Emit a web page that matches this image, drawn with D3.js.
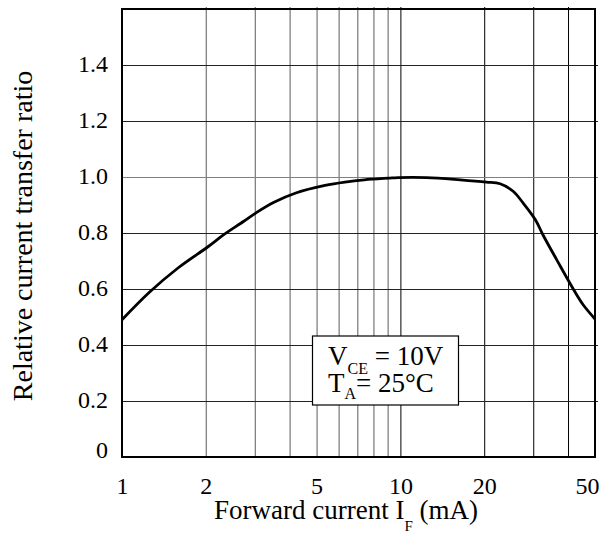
<!DOCTYPE html>
<html lang="en">
<head>
<meta charset="UTF-8">
<title>Relative current transfer ratio</title>
<style>
  body { margin: 0; background: #fff; }
  svg text { fill: #000; font-family: "Liberation Serif", "Times New Roman", serif; }
</style>
</head>
<body>
<svg id="chart" width="612" height="547"></svg>
<script src="https://d3js.org/d3.v7.min.js"></script>
<script>
// values
const currentMA = [1.0, 1.257, 1.589, 2.03, 2.32, 2.73, 3.04, 3.50, 4.21, 5.36, 6.32, 7.42, 9.08, 9.80,
                   12.43, 16.4, 20.35, 22.8, 25.4, 27.6, 30.5, 32.6, 36.4, 42.4, 45.4, 50];
const ratio = [0.490, 0.589, 0.675, 0.750, 0.794, 0.841, 0.873, 0.909, 0.943, 0.970, 0.982, 0.990, 0.996, 0.998,
               0.998, 0.990, 0.982, 0.976, 0.949, 0.907, 0.848, 0.791, 0.705, 0.589, 0.543, 0.493];

const xTicks = [1, 2, 5, 10, 20, 50];
const xGridMinor = [2, 3, 4, 5, 6, 7, 8, 9];
const xGridMajor = [10, 20, 30, 40];
const yTicks = [0, 0.2, 0.4, 0.6, 0.8, 1.0, 1.2, 1.4];

const margin = { left: 122, right: 17, top: 9, bottom: 90 };
const width = 612, height = 547;
const plotW = width - margin.left - margin.right;
const plotH = height - margin.top - margin.bottom;

const svg = d3.select("#chart");
const g = svg.append("g").attr("transform", `translate(${margin.left},${margin.top})`);

const x = d3.scaleLog().domain([1, 50]).range([0, plotW]);
const y = d3.scaleLinear().domain([0, 1.6]).range([plotH, 0]);

// vertical grid
g.append("g")
    .attr("transform", `translate(0,${plotH})`)
    .call(d3.axisBottom(x).tickValues(xGridMinor).tickSize(-plotH - 2).tickFormat(""))
    .call(a => a.select(".domain").remove())
    .call(a => a.selectAll("line").attr("stroke", "#808080").attr("stroke-width", 1.3));

g.append("g")
    .attr("transform", `translate(0,${plotH})`)
    .call(d3.axisBottom(x).tickValues(xGridMajor).tickSize(-plotH - 2).tickFormat(""))
    .call(a => a.select(".domain").remove())
    .call(a => a.selectAll("line").attr("stroke", "#000").attr("stroke-width", 1));

// horizontal grid
g.append("g")
    .call(d3.axisLeft(y).tickValues(yTicks.slice(1)).tickSize(-plotW - 3).tickFormat(""))
    .call(a => a.select(".domain").remove())
    .call(a => a.selectAll("line")
        .attr("stroke", d => d === 1 ? "#808080" : "#222")
        .attr("stroke-width", 1.1));

// curve
const line = d3.line()
    .x(d => x(d[0]))
    .y(d => y(d[1]))
    .curve(d3.curveCatmullRom.alpha(0.5));

g.append("path")
    .datum(currentMA.map((c, i) => [c, ratio[i]]))
    .attr("fill", "none")
    .attr("stroke", "#000")
    .attr("stroke-width", 2.8)
    .attr("d", line);

// frame
g.append("rect")
    .attr("width", plotW)
    .attr("height", plotH)
    .attr("fill", "none")
    .attr("stroke", "#000")
    .attr("stroke-width", 2);

// tick labels
g.append("g")
    .attr("transform", `translate(0,${plotH})`)
    .call(d3.axisBottom(x).tickValues(xTicks).tickSize(0).tickPadding(20).tickFormat(d3.format("d")))
    .call(a => a.select(".domain").remove())
    .call(a => a.selectAll("text")
        .attr("font-size", 24)
        .attr("dx", d => d === 50 ? -8 : 0));

g.append("g")
    .call(d3.axisLeft(y).tickValues(yTicks).tickSize(0).tickPadding(14)
        .tickFormat(d => d === 0 ? "0" : d3.format(".1f")(d)))
    .call(a => a.select(".domain").remove())
    .call(a => a.selectAll("text")
        .attr("font-size", 24)
        .attr("dy", d => d === 0 ? "0.0em" : "0.28em"));

// titles
svg.append("text")
    .attr("transform", "translate(32,236) rotate(-90)")
    .attr("text-anchor", "middle")
    .attr("font-size", 28)
    .text("Relative current transfer ratio");

const xt = svg.append("text")
    .attr("x", 346)
    .attr("y", 519)
    .attr("text-anchor", "middle")
    .attr("font-size", 27);
xt.append("tspan").text("Forward current I");
xt.append("tspan").attr("font-size", 15).attr("dy", 12).text("F");
xt.append("tspan").attr("dy", -12).text(" (mA)");

// condition box
const box = svg.append("g");
box.append("rect")
    .attr("x", 312.5).attr("y", 336)
    .attr("width", 146).attr("height", 69)
    .attr("fill", "#fff")
    .attr("stroke", "#000")
    .attr("stroke-width", 1.2);

const l1 = box.append("text").attr("x", 328).attr("y", 365).attr("font-size", 27);
l1.append("tspan").text("V");
l1.append("tspan").attr("font-size", 16).attr("dy", 9).text("CE");
l1.append("tspan").attr("dy", -9).text(" = 10V");

const l2 = box.append("text").attr("x", 328).attr("y", 392).attr("font-size", 27);
l2.append("tspan").text("T");
l2.append("tspan").attr("font-size", 16).attr("dy", 7).text("A");
l2.append("tspan").attr("dy", -7).text("= 25°C");
</script>
</body>
</html>
